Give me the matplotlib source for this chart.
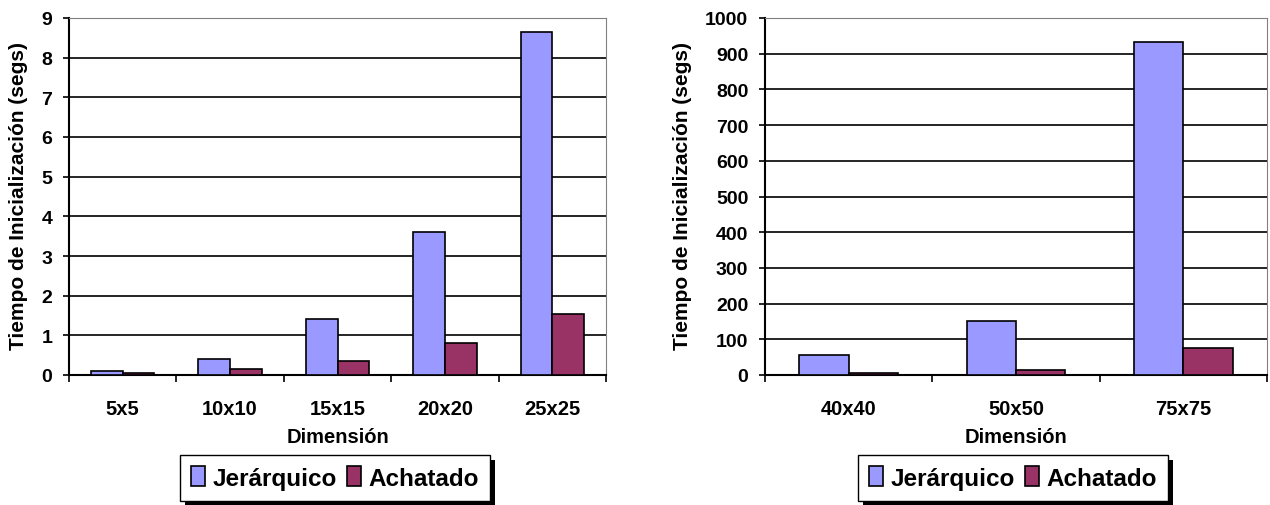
import matplotlib
matplotlib.use("Agg")
import matplotlib.pyplot as plt
import numpy as np
from matplotlib.patches import Rectangle

plt.rcParams['font.family'] = ['Liberation Sans', 'DejaVu Sans']
plt.rcParams['font.weight'] = 'bold'

# Small grids
dims_small = ["5x5", "10x10", "15x15", "20x20", "25x25"]
jer_small = [0.1, 0.4, 1.4, 3.6, 8.65]
ach_small = [0.04, 0.15, 0.35, 0.8, 1.55]

# Large grids
dims_large = ["40x40", "50x50", "75x75"]
jer_large = [55, 150, 932]
ach_large = [5, 15, 77]

series_names = ["Jerárquico", "Achatado"]
c_jer = "#9999ff"
c_ach = "#993366"
x_title = "Dimensión"
y_title = "Tiempo de Inicialización (segs)"

fig = plt.figure(figsize=(12.7, 5.06), dpi=100)
W, H = 1270, 506


def px_axes(x0, y0, x1, y1):
    return fig.add_axes([x0 / W, 1 - y1 / H, (x1 - x0) / W, (y1 - y0) / H])


def draw(ax, cats, jer, ach, ymax, ystep, ylab_x, legend_box):
    n = len(cats)
    x = np.arange(n)
    bw = 0.295
    ax.bar(x - bw / 2, jer, bw, color=c_jer, edgecolor="black", linewidth=1.2, zorder=3)
    ax.bar(x + bw / 2, ach, bw, color=c_ach, edgecolor="black", linewidth=1.2, zorder=3)
    ax.set_xlim(-0.5, n - 0.5)
    ax.set_ylim(0, ymax)
    ax.set_yticks(np.arange(0, ymax + ystep / 2, ystep))
    ax.yaxis.grid(True, color="black", linewidth=1.2, zorder=0)
    ax.set_axisbelow(True)
    ax.set_xticks(np.arange(-0.5, n, 1.0))
    ax.set_xticklabels([])
    ax.set_xticks(x, minor=True)
    ax.set_xticklabels(cats, minor=True, fontsize=14.5, fontweight="bold")
    ax.tick_params(axis="x", which="minor", length=0, pad=17)
    ax.tick_params(axis="x", which="major", length=5, width=1.2, direction="out")
    ax.tick_params(axis="y", length=4.5, width=1.2, direction="out", labelsize=14, pad=7.5)
    for lab in ax.get_yticklabels():
        lab.set_fontweight("bold")
    ax.spines["left"].set_linewidth(1.5)
    ax.spines["bottom"].set_linewidth(1.5)
    ax.spines["top"].set_color("#808080")
    ax.spines["right"].set_color("#808080")

    # Axis titles
    bb = ax.get_position()
    fig.text((bb.x0 + bb.x1) / 2, 1 - 438 / H, x_title, ha="center", va="center",
             fontsize=14.5, fontweight="bold")
    fig.text(ylab_x / W, (bb.y0 + bb.y1) / 2 + 0.003, y_title, rotation=90, ha="center", va="center",
             fontsize=15, fontweight="bold")

    # Legend panel with drop shadow
    lx0, ly0, lx1, ly1 = legend_box
    off = 5
    fig.patches.append(Rectangle(((lx0 + off) / W, 1 - (ly1 + off) / H), (lx1 - lx0) / W, (ly1 - ly0) / H,
                                 transform=fig.transFigure, facecolor="black", edgecolor="none", zorder=5))
    fig.patches.append(Rectangle((lx0 / W, 1 - ly1 / H), (lx1 - lx0) / W, (ly1 - ly0) / H,
                                 transform=fig.transFigure, facecolor="white", edgecolor="black",
                                 linewidth=1.0, zorder=6))
    handles = [Rectangle((0, 0), 1, 1, facecolor=c_jer, edgecolor="black", linewidth=1.2),
               Rectangle((0, 0), 1, 1, facecolor=c_ach, edgecolor="black", linewidth=1.2)]
    leg = fig.legend(handles, series_names, loc="center",
                     bbox_to_anchor=((lx0 + lx1) / 2 / W, 1 - (ly0 + ly1) / 2 / H),
                     ncol=2, frameon=False, handlelength=0.6, handleheight=0.85,
                     handletextpad=0.3, columnspacing=0.4,
                     prop={"weight": "bold", "size": 17.5})
    leg.set_zorder(7)


ax1 = px_axes(69, 19, 606, 376)
draw(ax1, dims_small, jer_small, ach_small, 9, 1, 19, (180, 456, 490, 502))

ax2 = px_axes(765, 19, 1267, 376)
draw(ax2, dims_large, jer_large, ach_large, 1000, 100, 682, (858, 456, 1168, 502))

fig.savefig("out.png", dpi=100)
